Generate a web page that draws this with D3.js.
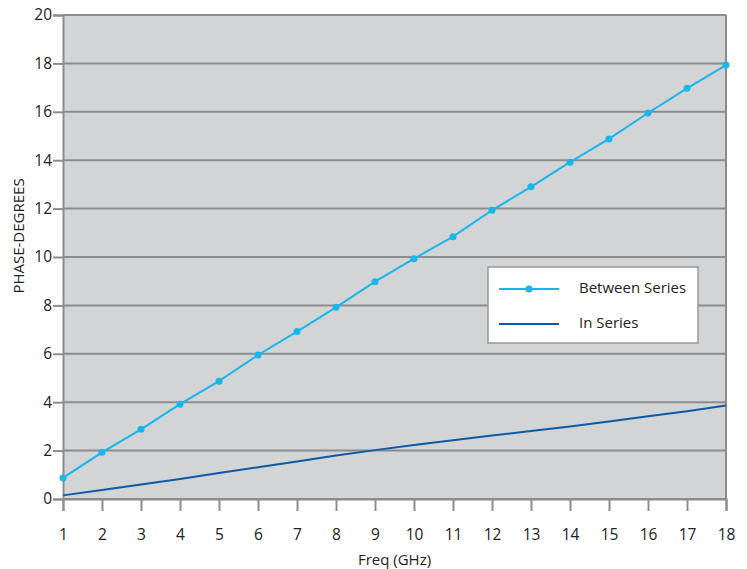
<!DOCTYPE html>
<html>
<head>
<meta charset="utf-8">
<script src="https://cdn.jsdelivr.net/npm/d3@7"></script>
<style>
  body { margin: 0; background: #fff; }
  svg text { font-family: "Open Sans", sans-serif; fill: #222; }
</style>
</head>
<body>
<div id="chart"></div>
<script>
// frequencies (GHz) on the x axis
const freqs = [1, 2, 3, 4, 5, 6, 7, 8, 9, 10, 11, 12, 13, 14, 15, 16, 17, 18];
// phase in degrees
const betweenSeries = [0.87, 1.93, 2.88, 3.92, 4.87, 5.95, 6.92, 7.92, 8.98, 9.93,
    10.84, 11.93, 12.9, 13.92, 14.88, 15.95, 16.97, 17.93];
const inSeries = [0.15, 0.37, 0.6, 0.83, 1.07, 1.31, 1.55, 1.8, 2.02, 2.23,
    2.43, 2.62, 2.81, 3.0, 3.2, 3.42, 3.63, 3.86];
const yTicks = [0, 2, 4, 6, 8, 10, 12, 14, 16, 18, 20];
const legendLabels = ["Between Series", "In Series"];

const W = 747, H = 569;
const margin = {top: 15, right: 21, bottom: 70, left: 63},
    width = W - margin.left - margin.right,
    height = H - margin.top - margin.bottom;

const lightBlue = "#17b7ec", darkBlue = "#0d5aa7", gridGrey = "#8c8c8c";

const svg = d3.select("#chart")
    .append("svg")
    .attr("width", W)
    .attr("height", H)
    .append("g")
    .attr("transform", "translate(" + margin.left + "," + margin.top + ")");

const x = d3.scaleLinear().domain([1, 18]).range([0, width]);
const y = d3.scaleLinear().domain([0, 20]).range([height, 0]);

// plot background
svg.append("rect")
    .attr("x", 0).attr("y", 0)
    .attr("width", width).attr("height", height)
    .attr("fill", "#d3d4d6");

// horizontal grid
svg.append("g")
    .selectAll("line")
    .data(yTicks)
    .enter()
    .append("line")
    .attr("x1", 0).attr("x2", width)
    .attr("y1", d => y(d)).attr("y2", d => y(d))
    .attr("stroke", gridGrey)
    .attr("stroke-width", 2);

// right border
svg.append("line")
    .attr("x1", width).attr("x2", width)
    .attr("y1", 0).attr("y2", height)
    .attr("stroke", gridGrey)
    .attr("stroke-width", 2);

// Y axis
const yAxis = svg.append("g")
    .call(d3.axisLeft(y).tickValues(yTicks).tickSize(10).tickPadding(1));
yAxis.selectAll("text").style("font-size", "15.5px");

// X axis
const xAxis = svg.append("g")
    .attr("transform", "translate(0," + height + ")")
    .call(d3.axisBottom(x).tickValues(freqs).tickSize(12).tickPadding(18));
xAxis.selectAll("text").style("font-size", "15.5px");

svg.selectAll(".domain, .tick line")
    .attr("stroke", gridGrey)
    .attr("stroke-width", 2);

// lines
const line = d3.line()
    .x((d, i) => x(freqs[i]))
    .y(d => y(d));

svg.append("path")
    .datum(inSeries)
    .attr("fill", "none")
    .attr("stroke", darkBlue)
    .attr("stroke-width", 2)
    .attr("d", line);

svg.append("path")
    .datum(betweenSeries)
    .attr("fill", "none")
    .attr("stroke", lightBlue)
    .attr("stroke-width", 2)
    .attr("d", line);

svg.selectAll(".dot")
    .data(betweenSeries)
    .enter()
    .append("circle")
    .attr("class", "dot")
    .attr("cx", (d, i) => x(freqs[i]))
    .attr("cy", d => y(d))
    .attr("r", 3.5)
    .attr("fill", lightBlue);

// axis titles
svg.append("text")
    .attr("x", width / 2)
    .attr("y", height + 66)
    .attr("text-anchor", "middle")
    .style("font-size", "15px")
    .text("Freq (GHz)");

svg.append("text")
    .attr("transform", "rotate(-90)")
    .attr("x", -221)
    .attr("y", -39)
    .attr("text-anchor", "middle")
    .style("font-size", "15px")
    .text("PHASE-DEGREES");

// legend
const legend = svg.append("g")
    .attr("transform", `translate(${488 - margin.left},${267 - margin.top})`);
legend.append("rect")
    .attr("x", 0).attr("y", 0)
    .attr("width", 210).attr("height", 76)
    .attr("fill", "#fff")
    .attr("stroke", "#999")
    .attr("stroke-width", 1.5);

const legendColors = [lightBlue, darkBlue];
legendLabels.forEach((label, i) => {
    const ly = 22 + i * 35;
    legend.append("line")
        .attr("x1", 11).attr("x2", 71)
        .attr("y1", ly).attr("y2", ly)
        .attr("stroke", legendColors[i])
        .attr("stroke-width", 2);
    if (i === 0) {
        legend.append("circle")
            .attr("cx", 41).attr("cy", ly)
            .attr("r", 3.5)
            .attr("fill", lightBlue);
    }
    legend.append("text")
        .attr("x", 91)
        .attr("y", ly)
        .attr("dominant-baseline", "middle")
        .style("font-size", "15px")
        .text(label);
});
</script>
</body>
</html>
